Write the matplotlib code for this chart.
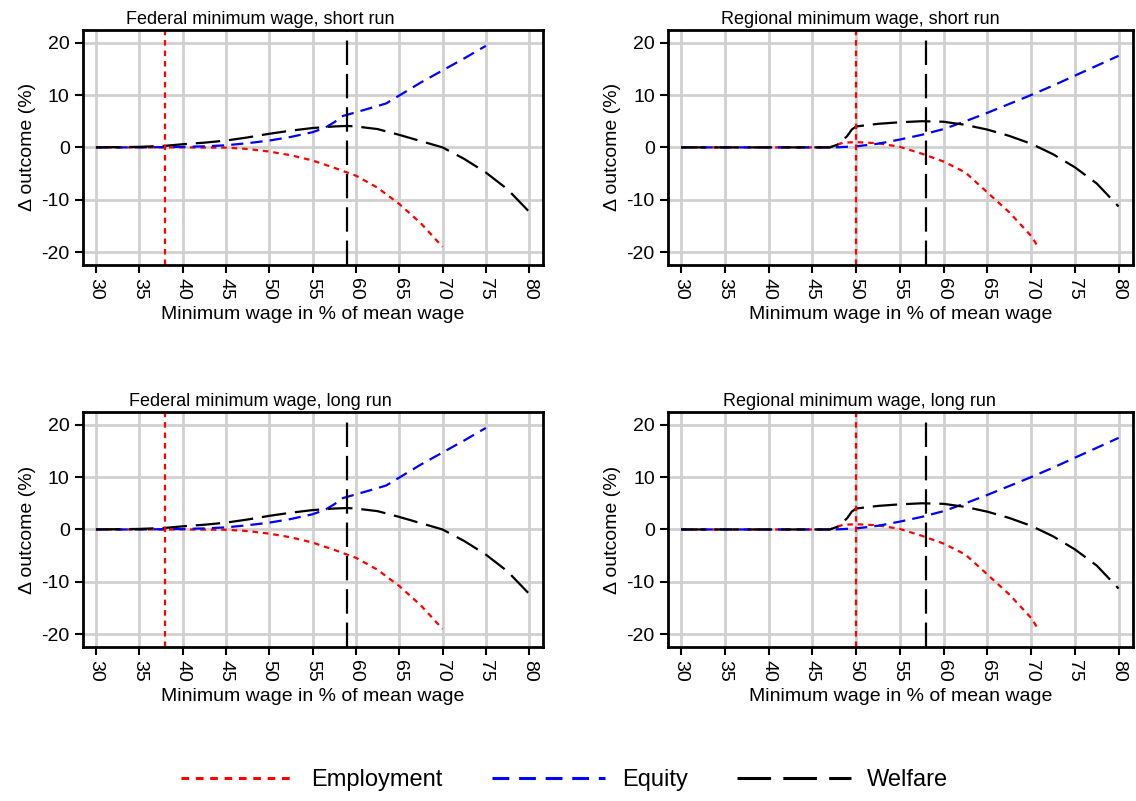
import matplotlib
matplotlib.use("Agg")
import matplotlib.pyplot as plt
from matplotlib.lines import Line2D

plt.rcParams['font.family'] = ['Liberation Sans', 'DejaVu Sans']
plt.rcParams['axes.unicode_minus'] = False

# federal minimum wage (short run and long run look the same)
fed_emp_x = [30, 35, 40, 45, 47.5, 50, 52.5, 55, 57.5, 60, 62.5, 65, 67.5, 70]
fed_emp_y = [0, 0, 0, -0.05, -0.3, -0.8, -1.5, -2.5, -3.9, -5.4, -7.7, -10.8, -14.5, -19]
fed_eq_x = [30, 35, 40, 42.5, 45, 47.5, 50, 52.5, 55, 56.5, 57.5, 58.5, 60, 62.5, 63.5,
            65, 67.5, 70, 72.5, 75]
fed_eq_y = [0, 0, 0.1, 0.2, 0.4, 0.8, 1.3, 2.0, 2.9, 3.8, 4.8, 6.0, 6.7, 7.9, 8.4,
            9.9, 12.4, 14.7, 17.0, 19.4]
fed_wf_x = [30, 35, 38, 40, 42.5, 45, 47.5, 50, 52.5, 55, 57.5, 59, 60, 62.5, 65,
            67.5, 70, 72.5, 75, 77.5, 80]
fed_wf_y = [0, 0.1, 0.3, 0.6, 0.9, 1.3, 1.9, 2.6, 3.2, 3.7, 4.0, 4.1, 4.0, 3.5, 2.4,
            1.2, 0.0, -2.2, -4.8, -8.0, -12.3]
fed_emp_opt = 38
fed_wf_opt = 59

# regional minimum wage
reg_emp_x = [30, 35, 40, 45, 47, 48, 48.5, 50, 52.5, 55, 57.5, 60, 62.5, 65, 67.5, 70, 70.8]
reg_emp_y = [0, 0, 0, 0, 0, 0.6, 0.9, 1.0, 0.8, 0.1, -1.2, -2.7, -4.8, -8.6, -12.4, -16.9, -19]
reg_eq_x = [30, 35, 40, 45, 47.5, 50, 52.5, 55, 57.5, 60, 62.5, 65, 67.5, 70, 72.5, 75,
            77.5, 80]
reg_eq_y = [0, 0, 0, 0, 0, 0.2, 0.7, 1.5, 2.4, 3.5, 5.0, 6.6, 8.3, 10.0, 11.8, 13.7,
            15.6, 17.5]
reg_wf_x = [30, 35, 40, 45, 47, 48, 49, 49.5, 50, 52.5, 55, 57.5, 60, 62.5, 65, 67.5,
            70, 72.5, 75, 77.5, 80]
reg_wf_y = [0, 0, 0, 0, 0, 0.6, 2.2, 3.4, 4.0, 4.5, 4.8, 5.0, 4.9, 4.3, 3.4, 2.2,
            0.7, -1.3, -3.8, -6.9, -11.3]
reg_emp_opt = 50
reg_wf_opt = 58

titles = ['Federal minimum wage, short run', 'Regional minimum wage, short run',
          'Federal minimum wage, long run', 'Regional minimum wage, long run']
xticks = [30, 35, 40, 45, 50, 55, 60, 65, 70, 75, 80]
yticks = [-20, -10, 0, 10, 20]

red_dash = (0, (2.5, 2.2))
blue_dash = (0, (5.5, 3.2))
black_dash = (0, (11, 4))
lw = 1.6

fig = plt.figure(figsize=(11.36, 8.01), dpi=100)
positions = [[0.073, 0.669, 0.405, 0.294], [0.588, 0.669, 0.409, 0.294],
             [0.073, 0.192, 0.405, 0.294], [0.588, 0.192, 0.409, 0.294]]
title_x = [0.385, 0.413, 0.385, 0.413]

panels = [
    (fed_emp_x, fed_emp_y, fed_eq_x, fed_eq_y, fed_wf_x, fed_wf_y, fed_emp_opt, fed_wf_opt),
    (reg_emp_x, reg_emp_y, reg_eq_x, reg_eq_y, reg_wf_x, reg_wf_y, reg_emp_opt, reg_wf_opt),
    (fed_emp_x, fed_emp_y, fed_eq_x, fed_eq_y, fed_wf_x, fed_wf_y, fed_emp_opt, fed_wf_opt),
    (reg_emp_x, reg_emp_y, reg_eq_x, reg_eq_y, reg_wf_x, reg_wf_y, reg_emp_opt, reg_wf_opt),
]

for i, (ex, ey, qx, qy, wx, wy, eopt, wopt) in enumerate(panels):
    ax = fig.add_axes(positions[i])
    ax.grid(True, color='#d0d0d0', lw=2)
    ax.set_axisbelow(True)
    ax.plot(ex, ey, color='red', lw=lw, linestyle=red_dash)
    ax.plot(qx, qy, color='blue', lw=lw, linestyle=blue_dash)
    ax.plot(wx, wy, color='black', lw=lw, linestyle=black_dash)
    ax.axvline(eopt, color='red', lw=lw, linestyle=red_dash)
    ax.axvline(wopt, color='black', lw=lw, linestyle=black_dash)
    ax.set_xlim(28.5, 81.6)
    ax.set_ylim(-22.5, 22.5)
    ax.set_xticks(xticks)
    ax.set_yticks(yticks)
    ax.tick_params(axis='x', labelrotation=-90, labelsize=14, length=6, width=1.5)
    ax.tick_params(axis='y', labelsize=14, length=6, width=1.5)
    for s in ax.spines.values():
        s.set_linewidth(2)
    ax.set_xlabel('Minimum wage in % of mean wage', fontsize=14, labelpad=4)
    ax.set_ylabel('\u0394 outcome (%)', fontsize=14)
    ax.set_title(titles[i], fontsize=13, pad=4, x=title_x[i])

handles = [Line2D([], [], color='red', lw=2.2, linestyle=red_dash),
           Line2D([], [], color='blue', lw=2.2, linestyle=blue_dash),
           Line2D([], [], color='black', lw=2.2, linestyle=black_dash)]
fig.legend(handles, ['Employment', 'Equity', 'Welfare'], loc='center',
           bbox_to_anchor=(0.497, 0.026), ncol=3, frameon=False, fontsize=17,
           handlelength=4.8, handletextpad=0.7, columnspacing=2.1)

fig.savefig('out.png', dpi=100)
